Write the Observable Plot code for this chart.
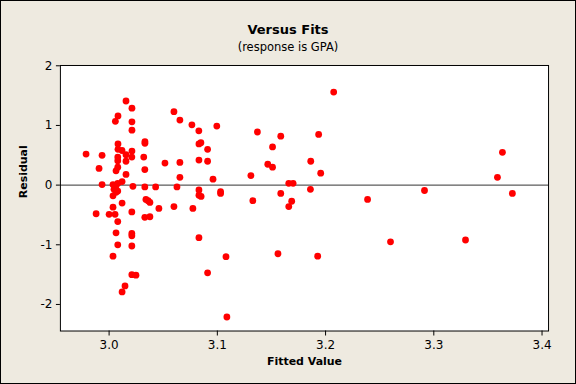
<!DOCTYPE html>
<html>
<head>
<meta charset="utf-8">
<script src="https://cdn.jsdelivr.net/npm/d3@7"></script>
<script src="https://cdn.jsdelivr.net/npm/@observablehq/plot@0.6"></script>
<style>
  body { margin: 0; }
  #wrap { position: relative; width: 576px; height: 384px; box-sizing: border-box; border: 1px solid #000; background: #EEEAE0; overflow: hidden; font-family: "DejaVu Sans", sans-serif; }
  #title { position: absolute; top: 21px; left: -1px; width: 576px; text-align: center; font-weight: bold; font-size: 13px; color: #000; }
  #sub { position: absolute; top: 39px; left: -1px; width: 576px; text-align: center; font-size: 11.5px; color: #000; }
  #chart { position: absolute; top: 56px; left: -1px; }
</style>
</head>
<body>
<div id="wrap">
  <div id="title">Versus Fits</div>
  <div id="sub">(response is GPA)</div>
  <div id="chart"></div>
</div>
<script>
const fitted = [
  3.0156, 3.0211, 3.0082, 3.0058, 3.0211, 3.0211, 3.0599, 3.0654, 3.0765, 3.0829,
  3.0331, 3.0331, 3.0082, 3.0830, 3.0848, 3.0910, 2.9787, 2.9935, 3.0082, 3.0119,
  3.0211, 3.0080, 3.0080, 3.0156, 3.0156, 3.0210, 3.0320, 3.0516, 3.0654, 3.0830,
  3.0910, 2.9907, 3.0080, 3.0064, 3.0330, 3.0156, 3.0654, 2.9935, 3.0036, 3.0064,
  3.0080, 3.0120, 3.0045, 3.0080, 3.0064, 3.0036,
  3.0220, 3.0330, 3.0430, 3.0627, 3.0830, 3.0830, 3.0850,
  3.0036, 3.0120, 2.9880, 3.0000, 3.0055, 3.0080, 3.0210, 3.0340, 3.0360,
  3.0377, 3.0330, 3.0377, 3.0460, 3.0599, 3.0774, 3.0064, 3.0210, 3.0210, 3.0080,
  3.0210, 3.0830, 3.0036, 3.0210, 3.0248, 3.0910, 3.0147, 3.0120,
  3.2075, 3.0995, 3.0960, 3.1370, 3.1586, 3.1510, 3.1466, 3.1510, 3.1310, 3.1936,
  3.1863, 3.1955, 3.1660, 3.1700, 3.1860, 3.1030, 3.1030, 3.1328, 3.1586, 3.1687,
  3.1660, 3.1080, 3.1560, 3.1927, 3.1088, 3.3634, 3.3588, 3.3726, 3.2914, 3.2388,
  3.2600, 3.3293
];
const residual = [
  1.41, 1.29, 1.16, 1.07, 1.06, 0.92, 1.23, 1.09, 1.01, 0.91,
  0.73, 0.70, 0.69, 0.69, 0.71, 0.60, 0.52, 0.50, 0.60, 0.58,
  0.57, 0.47, 0.41, 0.51, 0.40, 0.47, 0.47, 0.37, 0.38, 0.42,
  0.40, 0.28, 0.30, 0.24, 0.26, 0.18, 0.13, 0.01, 0.01, -0.01,
  0.03, 0.06, -0.07, -0.10, -0.12, -0.18,
  -0.02, -0.03, -0.03, -0.03, -0.08, -0.17, -0.19,
  -0.37, -0.30, -0.48, -0.49, -0.49, -0.61, -0.45, -0.24, -0.26,
  -0.29, -0.54, -0.53, -0.39, -0.36, -0.39, -0.80, -0.81, -0.85, -1.00,
  -1.02, -0.88, -1.19, -1.50, -1.51, -1.47, -1.69, -1.79,
  1.56, 0.99, 0.10, 0.89, 0.82, 0.64, 0.35, 0.30, 0.16, 0.85,
  0.40, 0.20, 0.03, 0.03, -0.07, -0.11, -0.14, -0.26, -0.14, -0.27,
  -0.36, -1.20, -1.15, -1.19, -2.21, 0.55, 0.13, -0.14, -0.09, -0.24,
  -0.95, -0.92
];
const xTicks = [3.0, 3.1, 3.2, 3.3, 3.4];
const yTicks = [-2, -1, 0, 1, 2];

const data = fitted.map((f, i) => ({fit: f, res: residual[i]}));

const chart = Plot.plot({
  width: 576,
  height: 327,
  marginTop: 8,
  marginBottom: 53,
  marginLeft: 60,
  marginRight: 27,
  style: {background: "transparent", fontFamily: "DejaVu Sans", fontSize: "12px", color: "#000"},
  x: {domain: [2.955, 3.406]},
  y: {domain: [-2.445, 2.005]},
  marks: [
    Plot.frame({fill: "white", stroke: null}),
    Plot.axisX({ticks: xTicks, tickFormat: d => d.toFixed(1), tickSize: 5, tickPadding: 4, label: null, fontSize: 12}),
    Plot.axisY({ticks: yTicks, tickFormat: d => String(d), tickSize: 4, tickPadding: 4, label: null, fontSize: 12}),
    Plot.ruleY([0], {stroke: "#333", strokeWidth: 1}),
    Plot.dot(data, {x: "fit", y: "res", r: 3.4, fill: "#ff0000", stroke: null}),
    Plot.frame({stroke: "#000", strokeWidth: 1}),
    Plot.text(["Fitted Value"], {frameAnchor: "bottom", dy: 34, fontWeight: "bold", fontSize: 11}),
    Plot.text(["Residual"], {frameAnchor: "left", dx: -37, rotate: -90, fontWeight: "bold", fontSize: 11})
  ]
});
document.getElementById("chart").appendChild(chart);
</script>
</body>
</html>
